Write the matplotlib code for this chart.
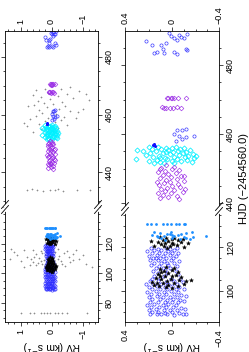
import matplotlib
matplotlib.use("Agg")
import matplotlib.pyplot as plt
from matplotlib.lines import Line2D
from matplotlib.ticker import FixedLocator, MultipleLocator, FuncFormatter

plt.rcParams['font.family'] = ['Liberation Sans', 'DejaVu Sans']

# ---- data (HJD - 2454560.0, RV in km/s) ----
# open blue circles
blue_hjd = [486.9, 485.8, 483.8, 483.6, 485.8, 484.8, 483.6, 489.4, 488.4, 487.9,
            487.4, 488.1, 487.9, 489.1, 488.7, 484.8, 484.3, 483.8, 483.3, 486.4,
            461.1, 461.1, 461.6, 460.1, 459.6, 459.1, 459.4, 458.1, 458.6,
            119.5, 119.3, 119.6, 119.4, 119.7, 118.6, 118.8, 118.5, 118.7, 118.4,
            117.4, 117.2, 117.5, 117.3, 117.6, 116.2, 116.4, 116.1, 116.3, 116.0,
            115.1, 115.3, 115.0, 115.2, 114.9, 114.0, 114.2, 113.9, 114.1, 113.8,
            112.8, 112.6, 112.9, 112.7, 111.7, 111.5, 111.8, 111.6, 110.5, 110.7, 110.4,
            109.2, 109.4, 109.1, 108.0, 108.2, 107.9, 106.8, 106.6,
            105.5, 105.7, 105.4, 105.6, 104.3, 104.5, 104.2, 104.4, 104.1,
            103.1, 103.3, 103.0, 103.2, 102.9, 101.9, 102.1, 101.8, 102.0, 101.7,
            100.8, 101.0, 100.7, 100.9, 100.6, 99.6, 99.8, 99.5, 99.7, 99.4,
            98.4, 98.6, 98.3, 98.5, 98.2, 97.2, 97.4, 97.1, 97.3, 97.0, 97.5,
            96.0, 96.2, 95.9, 96.1, 95.8, 94.8, 95.0, 94.7, 94.9, 94.6, 95.1,
            93.6, 93.8, 93.5, 93.7, 93.4, 92.4, 92.6, 92.3, 92.5, 92.2,
            91.2, 91.4, 91.1, 91.3, 91.0, 91.5, 90.0, 90.2, 89.9, 90.1, 89.8,
            89.2, 89.4, 89.1, 89.3, 89.0, 89.5, 89.2]
blue_rv = [0.224, 0.17, 0.125, 0.153, 0.096, 0.074, 0.068, 0.026, 0.011, -0.017,
           -0.045, -0.074, -0.10, -0.13, -0.06, -0.117, -0.13, -0.017, -0.045, 0.054,
           -0.045, -0.088, -0.117, -0.017, -0.06, -0.117, -0.187, -0.031, -0.088,
           0.18, 0.12, 0.05, 0.02, -0.04, 0.15, 0.09, 0.03, -0.02, 0.21,
           0.17, 0.11, 0.06, 0.0, -0.05, 0.2, 0.13, 0.08, 0.02, -0.03,
           0.16, 0.1, 0.05, -0.01, 0.14, 0.19, 0.12, 0.07, 0.01, -0.06,
           0.15, 0.09, 0.04, -0.02, 0.18, 0.11, 0.03, -0.04, 0.14, 0.08, 0.02,
           0.16, 0.06, -0.03, 0.12, 0.04, -0.05, 0.15, 0.07,
           0.17, 0.1, 0.01, -0.07, 0.19, 0.12, 0.05, -0.02, -0.09,
           0.16, 0.09, 0.03, -0.04, 0.22, 0.2, 0.13, 0.06, 0.0, -0.06,
           0.17, 0.1, 0.04, -0.03, -0.1, 0.21, 0.14, 0.07, 0.01, -0.05,
           0.18, 0.11, 0.05, -0.02, -0.08, 0.2, 0.13, 0.08, 0.02, -0.04, -0.12,
           0.17, 0.1, 0.04, -0.01, -0.07, 0.19, 0.12, 0.06, 0.0, -0.05, -0.1,
           0.21, 0.15, 0.08, 0.03, -0.03, 0.18, 0.11, 0.05, -0.01, -0.08,
           0.2, 0.14, 0.07, 0.02, -0.04, -0.11, 0.17, 0.12, 0.06, 0.0, -0.06,
           0.19, 0.13, 0.09, 0.04, -0.02, -0.09, -0.12]

# filled blue circles
bfill_hjd = [457.0, 456.7, 456.9]
bfill_rv = [0.155, 0.145, 0.16]

# black stars
star_hjd = [124.5, 124.2, 124.6, 123.8, 123.5, 123.2, 122.9, 122.6, 122.3, 122.0,
            121.7, 121.4, 121.1, 120.8, 120.5, 120.2, 119.9, 123.0, 121.9, 124.0,
            122.1, 120.6,
            111.0, 110.4, 110.0, 109.5, 109.0, 108.6, 108.1, 107.6, 107.2, 106.8,
            106.3, 106.0, 105.6, 105.2, 104.8, 104.5, 104.1, 103.8, 103.4, 103.0,
            102.7, 102.3, 102.0, 101.6, 101.2, 105.0, 103.6, 106.6, 104.3, 102.5,
            108.8, 107.0]
star_rv = [0.05, -0.02, 0.1, 0.0, 0.08, -0.05, 0.03, 0.12, -0.08, 0.06,
           -0.01, 0.09, -0.04, 0.02, 0.15, -0.1, 0.04, 0.18, -0.14, -0.09,
           0.0, 0.07,
           0.05, -0.02, 0.1, 0.0, 0.07, -0.05, 0.03, 0.12, -0.03, 0.06,
           -0.08, 0.14, 0.01, 0.09, -0.06, 0.04, 0.17, -0.02, 0.08, -0.1,
           0.03, 0.11, -0.05, 0.05, 0.0, -0.16, 0.13, 0.1, -0.12, 0.15,
           0.09, 0.0]

# filled light-blue circles
lb_hjd = [131.0, 131.0, 131.0, 131.0, 131.0, 131.0, 131.0, 131.0, 131.0, 131.0,
          127.0, 126.6, 126.2, 125.8, 125.4, 125.0, 124.6, 124.2, 123.8, 126.8,
          126.4, 125.6, 125.2, 124.8, 124.4, 124.0, 126.0, 125.5, 123.6, 126.9,
          125.1, 124.5, 125.3, 127.3]
lb_rv = [0.21, 0.18, 0.135, 0.08, 0.04, 0.01, -0.03, -0.06, -0.10, -0.11,
         0.15, 0.1, 0.02, -0.05, 0.07, -0.1, 0.12, 0.0, -0.15, -0.12,
         0.04, 0.17, -0.02, -0.18, 0.09, -0.07, -0.08, 0.0, 0.06, 0.01,
         0.13, -0.12, -0.29, -0.17]

# open cyan diamonds
cyan_hjd = [456.3, 456.2, 456.0, 456.4, 456.1, 455.8, 455.6, 455.9, 455.7, 455.5,
            455.2, 455.0, 455.3, 455.1, 454.8, 454.6, 454.4, 454.7, 454.5, 454.2,
            454.0, 453.8, 454.1, 453.9, 453.6, 453.4, 453.2, 453.5, 453.3, 453.0,
            452.8, 452.6, 452.9, 452.7, 452.4, 452.2, 452.0, 452.3, 452.1, 451.8,
            451.6, 451.7, 451.5, 455.4, 453.7, 454.9, 453.1]
cyan_rv = [0.2, 0.12, 0.05, -0.03, -0.1, 0.17, 0.09, 0.0, -0.07, -0.15,
           0.25, 0.14, 0.03, -0.05, -0.12, 0.19, 0.08, -0.01, -0.09, -0.18,
           0.22, 0.11, 0.02, -0.06, -0.14, 0.16, 0.06, -0.02, -0.11, -0.19,
           0.31, 0.13, 0.04, -0.04, -0.13, 0.2, 0.1, 0.0, -0.08, -0.17,
           0.15, 0.07, -0.02, 0.3, -0.2, 0.05, 0.1]

# open purple diamonds
purp_hjd = [451.0, 450.6, 450.3, 450.0, 449.7, 449.4, 449.1, 448.8, 448.5, 448.2,
            447.9, 447.6, 447.3, 447.0, 446.7, 446.4, 446.1, 445.8, 445.5, 445.2,
            444.9, 444.6, 444.3, 444.0, 443.7, 443.4, 443.1, 442.8, 442.5, 442.2,
            441.9, 441.6, 441.3, 449.9, 448.0, 446.0, 444.2, 442.9,
            470.6, 470.5, 470.4, 470.6, 470.5, 470.4, 470.5,
            467.8, 467.7, 467.6, 467.7, 467.8, 467.6, 467.7]
purp_rv = [0.05, -0.02, 0.09, 0.0, -0.06, 0.06, 0.12, -0.03, 0.03, 0.08,
           -0.08, 0.01, 0.1, -0.04, 0.05, -0.1, 0.02, 0.07, -0.05, 0.11,
           0.0, -0.07, 0.04, 0.09, -0.02, 0.06, -0.09, 0.01, 0.08, -0.04,
           0.03, 0.1, -0.06, 0.1, -0.1, 0.13, -0.11, 0.12,
           0.04, 0.01, -0.02, -0.05, 0.0, 0.03, -0.12,
           0.085, 0.05, 0.02, -0.01, -0.04, -0.075, 0.07]

# grey points (upper panel only)
grey_hjd = [469.5, 469.0, 468.8, 468.5, 468.1, 467.6, 467.2, 466.9, 466.5, 466.1,
            465.7, 465.3, 464.9, 464.5, 464.1, 463.7, 463.3, 462.9, 462.5, 462.1,
            461.7, 461.3, 460.9, 460.5, 460.1, 459.7, 459.3, 458.9, 458.5, 458.1,
            457.7, 457.3, 456.9, 456.5, 456.1, 455.7, 455.3, 454.9, 454.5, 454.1,
            465.0, 462.0, 459.0, 467.0, 457.0, 463.0, 461.0,
            433.8, 434.1, 433.8, 433.6, 434.0, 433.8, 434.2, 433.7, 433.9, 433.8,
            116.5, 116.0, 115.5, 115.0, 114.6, 114.2, 113.8, 113.4, 113.0, 112.6,
            112.2, 111.8, 111.4, 111.0, 110.6, 110.2, 109.8, 109.4, 109.0, 108.6,
            108.2, 107.8, 107.4, 107.0, 106.6, 106.2, 105.8, 105.4, 105.0, 104.6,
            104.2, 116.8, 115.8, 114.8, 113.6, 112.4, 111.2, 110.0, 108.8, 107.6,
            106.4, 105.2, 104.0, 115.3, 112.9, 110.8, 109.6, 108.4, 107.2, 106.0,
            73.0, 73.2, 72.9, 73.1, 73.0, 73.3, 72.8, 73.0, 73.1, 72.9, 73.0, 73.2]
grey_rv = [-0.6, 0.2, -0.3, 0.5, -0.9, 0.1, -0.5, 0.6, -0.2, 0.35,
           -0.7, 0.05, 0.45, -0.35, 0.25, -0.05, 0.55, -0.45, 0.15, -0.25,
           0.4, -0.6, 0.0, 0.3, -0.15, 0.5, -0.4, 0.1, 0.7, -0.3,
           0.2, -0.1, 0.4, -0.5, 0.8, 0.05, -0.2, 0.35, -0.05, 0.6,
           -1.2, -1.0, -0.8, -1.1, 0.9, 0.75, -0.85,
           0.79, 0.63, 0.47, 0.27, 0.05, -0.11, -0.21, -0.37, -0.82, -1.24,
           1.3, 0.9, 0.6, 0.35, 0.15, -0.1, -0.4, -0.7, 0.5, 1.1,
           0.2, -0.25, 0.8, -0.55, 0.4, -0.05, 0.65, -0.9, 0.25, -0.3,
           1.0, 0.05, -0.6, 0.45, -1.1, 0.3, -0.15, 0.7, -0.45, 0.1,
           -1.3, -0.2, -0.8, 1.2, 0.3, -1.0, 0.55, 1.35, -0.7, 0.6,
           -0.35, 0.2, 0.9, -0.5, -0.05, 0.15, -0.2, 0.35, -0.1, 0.5,
           1.0, 0.7, 0.55, 0.35, 0.25, 0.15, 0.05, -0.1, -0.2, -0.35, -0.5, -1.15]

hjd_ticks_up = [440, 460, 480]
hjd_ticks_lo = {'left': [80, 100, 120], 'right': [100, 120]}
rv_ticks = {'left': [-1, 0, 1], 'right': [-0.4, 0, 0.4]}

# ---- layout ----
W, H = 249, 352
fig = plt.figure(figsize=(W / 100, H / 100), dpi=100)

def fbox(x0, x1, y0, y1):
    # pixel box (top-left origin) -> figure fraction
    return [x0 / W, 1 - y1 / H, (x1 - x0) / W, (y1 - y0) / H]

cols = {
    'left': dict(x=(5, 98), brk=207, ylim_up=(428, 489), ylim_lo=(67, 145),
                 xlim=(1.5, -1.5), minor_x=0.2),
    'right': dict(x=(125, 219), brk=209, ylim_up=(438.3, 489.9), ylim_lo=(85.6, 137.7),
                  xlim=(0.4, -0.4), minor_x=0.1),
}
top_px, bot_px = 31, 322

fmt = FuncFormatter(lambda v, p: ('%g' % v).replace('-', '\u2212'))

for name, c in cols.items():
    x0, x1 = c['x']
    ax_up = fig.add_axes(fbox(x0, x1, top_px, c['brk']))
    ax_lo = fig.add_axes(fbox(x0, x1, c['brk'], bot_px))
    for ax in (ax_up, ax_lo):
        if name == 'left':
            ax.plot(grey_rv, grey_hjd, '+', color='#8c8c8c', ms=1.6, mew=0.45)
        ax.plot(blue_rv, blue_hjd, 'o', mfc='none', mec='#2a2aff', ms=2.3, mew=0.45)
        ax.plot(star_rv, star_hjd, '*', color='black', ms=3.0, mew=0.3)
        ax.plot(lb_rv, lb_hjd, 'o', color='#1e8fff', ms=2.0, mew=0)
        ax.plot(cyan_rv, cyan_hjd, 'D', mfc='none', mec='#00f0ff', ms=2.6, mew=0.55)
        ax.plot(purp_rv, purp_hjd, 'D', mfc='none', mec='#9a2de6', ms=2.4, mew=0.45)
        ax.plot(bfill_rv, bfill_hjd, 'o', color='#1010ff', ms=2.2, mew=0)
        ax.set_xlim(*c['xlim'])
        ax.xaxis.set_major_locator(FixedLocator(rv_ticks[name]))
        ax.xaxis.set_minor_locator(MultipleLocator(c['minor_x']))
        ax.xaxis.set_major_formatter(fmt)
        ax.yaxis.set_minor_locator(MultipleLocator(5))
        ax.yaxis.set_major_formatter(fmt)
        ax.tick_params(which='both', direction='out', width=0.5, labelsize=6.5, pad=2)
        ax.tick_params(which='major', length=3.0)
        ax.tick_params(which='minor', length=1.6)
        ax.tick_params(axis='y', which='both', left=True, right=True,
                       labelleft=False, labelright=True, labelrotation=90)
        ax.tick_params(axis='x', labelrotation=90)
        for s in ax.spines.values():
            s.set_linewidth(0.6)
    ax_up.set_ylim(*c['ylim_up'])
    ax_lo.set_ylim(*c['ylim_lo'])
    ax_up.yaxis.set_major_locator(FixedLocator(hjd_ticks_up))
    ax_lo.yaxis.set_major_locator(FixedLocator(hjd_ticks_lo[name]))
    ax_up.spines['bottom'].set_visible(False)
    ax_lo.spines['top'].set_visible(False)
    ax_up.tick_params(axis='x', which='both', bottom=False, labelbottom=False,
                      top=True, labeltop=True)
    ax_lo.tick_params(axis='x', which='both', top=False, labeltop=False,
                      bottom=True, labelbottom=True)
    for lab in ax_up.get_yticklabels() + ax_lo.get_yticklabels():
        lab.set_va('center')

    # break marks "//" on both spines
    yb = c['brk']
    for xs in (x0, x1):
        fig.add_artist(Line2D([xs / W, xs / W], [1 - (yb - 2.5) / H, 1 - (yb + 2.5) / H],
                              transform=fig.transFigure, color='white', lw=2.0))
        for dy in (-2.5, 2.5):
            fig.add_artist(Line2D([(xs - 3.5) / W, (xs + 3.5) / W],
                                  [1 - (yb + dy + 4) / H, 1 - (yb + dy - 4) / H],
                                  transform=fig.transFigure, color='black', lw=0.6))

    fig.text((x0 + x1) / 2 / W, 1 - 345.5 / H, 'RV (km s$^{-1}$)', rotation=180,
             ha='center', va='center', fontsize=7.5)

fig.text(244 / W, 1 - 179 / H, 'HJD (\u22122454560.0)', rotation=90,
         ha='center', va='center', fontsize=8)

fig.savefig('out.png', dpi=100)
